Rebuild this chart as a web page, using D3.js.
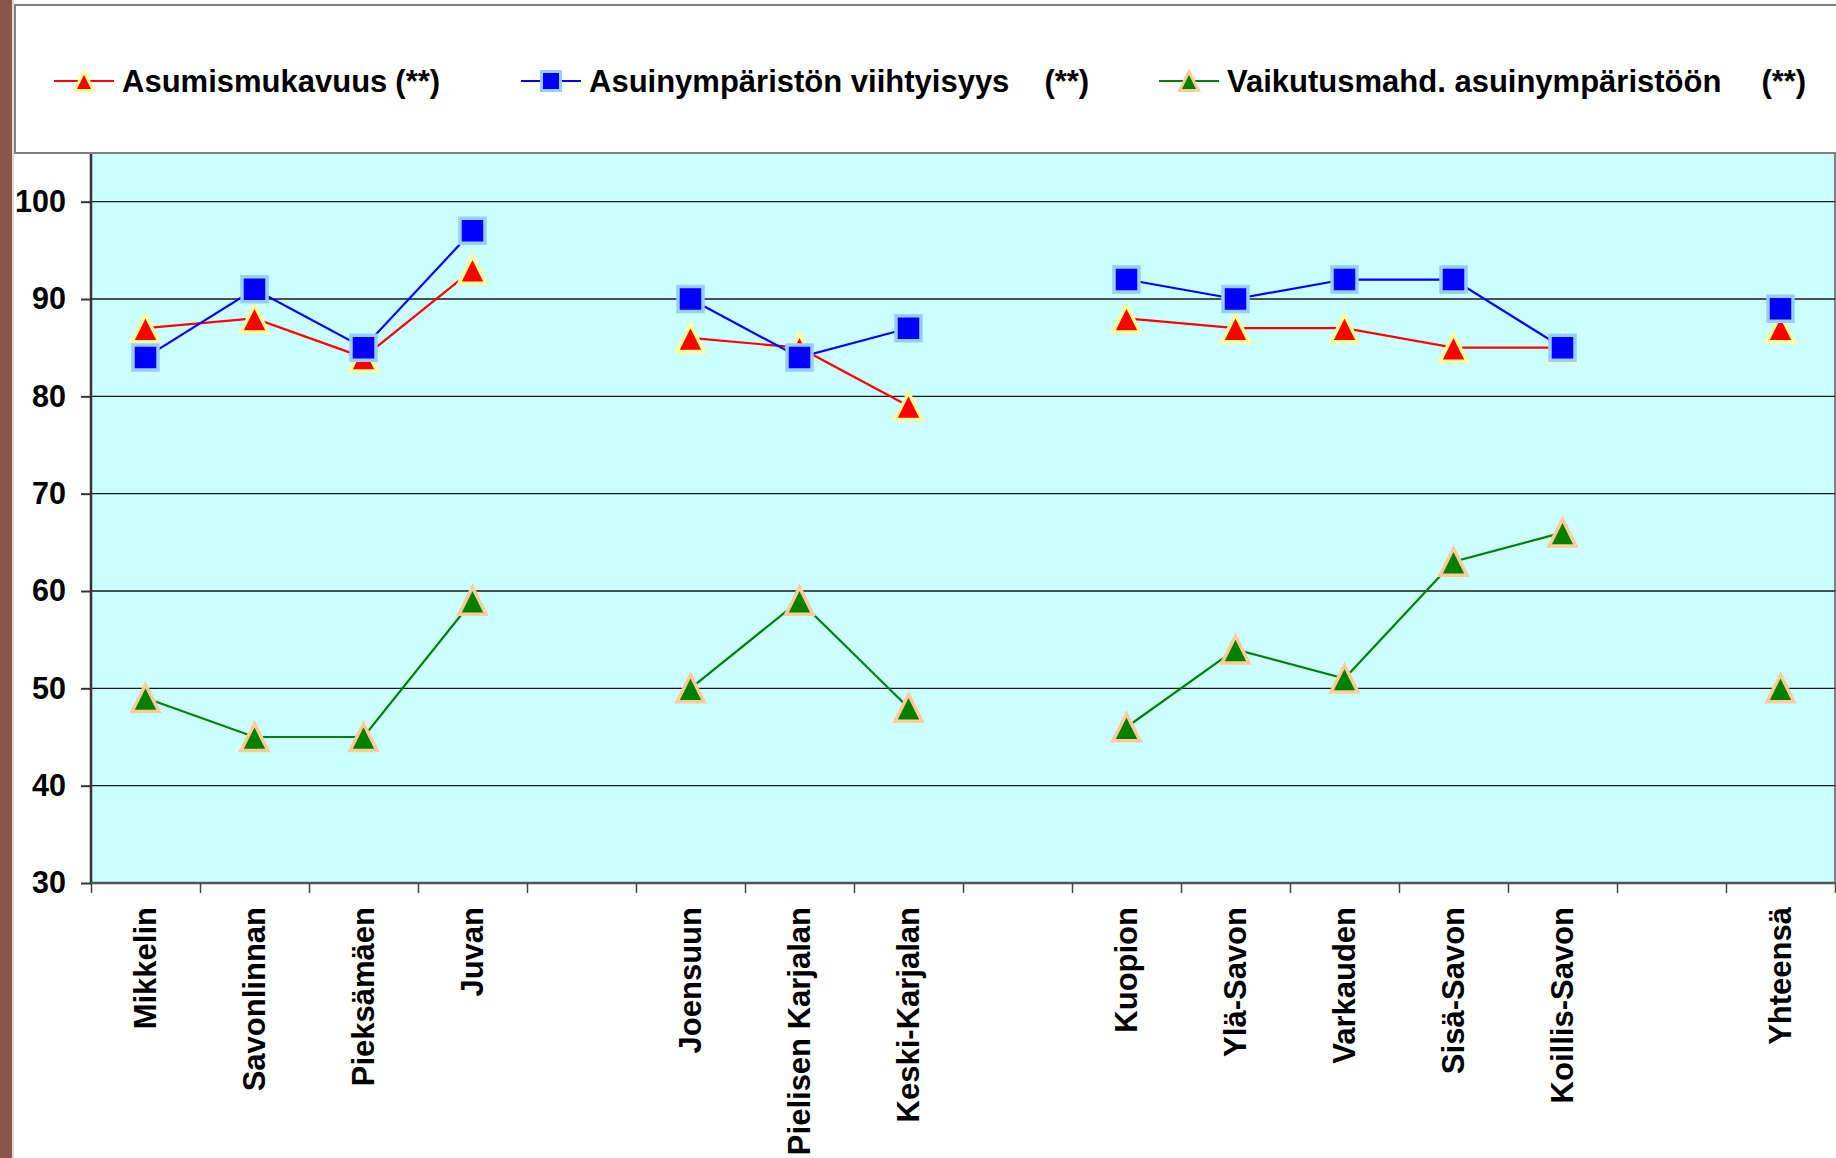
<!DOCTYPE html>
<html>
<head>
<meta charset="utf-8">
<script src="https://cdn.jsdelivr.net/npm/d3@7"></script>
<style>
    body { margin: 0; background: white; }
    svg text { font-family: "Liberation Sans", Arial, sans-serif; font-weight: bold; }
</style>
</head>
<body>
<div class="container"></div>
<script>
// Categories ("" = gap between regions)
const categories = ["Mikkelin", "Savonlinnan", "Pieksämäen", "Juvan", "",
    "Joensuun", "Pielisen Karjalan", "Keski-Karjalan", "",
    "Kuopion", "Ylä-Savon", "Varkauden", "Sisä-Savon", "Koillis-Savon", "",
    "Yhteensä"]

// Series values
const asumismukavuus = [87, 88, 84, 93, null, 86, 85, 79, null, 88, 87, 87, 85, 85, null, 87]
const viihtyisyys = [84, 91, 85, 97, null, 90, 84, 87, null, 92, 90, 92, 92, 85, null, 89]
const vaikutusmahd = [49, 45, 45, 59, null, 50, 59, 48, null, 46, 54, 51, 63, 66, null, 50]

const seriesNames = ["Asumismukavuus", "Asuinympäristön viihtyisyys", "Vaikutusmahd. asuinympäristöön"]
const seriesNotes = ["(**)", "(**)", "(**)"]

const yTicks = [30, 40, 50, 60, 70, 80, 90, 100]

const series = [
    {name: seriesNames[0], note: seriesNotes[0], values: asumismukavuus, color: "#ff0000", edge: "#ffff99", shape: "triangle"},
    {name: seriesNames[1], note: seriesNotes[1], values: viihtyisyys, color: "#0000ff", edge: "#99ccff", shape: "square"},
    {name: seriesNames[2], note: seriesNotes[2], values: vaikutusmahd, color: "#008000", edge: "#ffcc99", shape: "triangle"}
]

let outerWidth = 1836
let outerHeight = 1158
let plot = {left: 91, right: 1835, top: 153, bottom: 883}

const svg = d3.select(".container")
    .append("svg")
    .attr("width", outerWidth)
    .attr("height", outerHeight)

// brown strip on the left edge
svg.append("rect")
    .attr("x", 0).attr("y", 0)
    .attr("width", 12).attr("height", outerHeight)
    .attr("fill", "#8c5648")
svg.append("rect")
    .attr("x", 12).attr("y", 0)
    .attr("width", 2).attr("height", outerHeight)
    .attr("fill", "#ead6d0")

// Scales
const xEdge = d3.scaleLinear()
    .domain([0, categories.length])
    .range([plot.left, plot.right])

const x = i => xEdge(i + 0.5)

const yScale = d3.scaleLinear()
    .domain([30, 105])
    .range([plot.bottom, plot.top])

// Plot background
svg.append("rect")
    .attr("x", plot.left)
    .attr("y", plot.top)
    .attr("width", plot.right - plot.left)
    .attr("height", plot.bottom - plot.top)
    .attr("fill", "#ccffff")
    .attr("stroke", "#808080")
    .attr("stroke-width", 2)

// Grid lines
svg.append("g")
    .selectAll("line")
    .data(yTicks.filter(d => d > 30))
    .enter()
    .append("line")
    .attr("x1", plot.left)
    .attr("x2", plot.right)
    .attr("y1", d => yScale(d))
    .attr("y2", d => yScale(d))
    .attr("stroke", "#1a1a1a")
    .attr("stroke-width", 1.3)

// Axes
const yAxis = d3.axisLeft(yScale)
    .tickValues(yTicks)
    .tickSize(10)
    .tickPadding(15)

svg.append("g")
    .attr("class", "axis y-axis")
    .attr("transform", `translate(${plot.left}, 0)`)
    .call(yAxis)
    .call(g => {
        g.select(".domain").attr("d", `M0,${plot.top}V${plot.bottom}`).attr("stroke", "#333").attr("stroke-width", 2.5)
        g.selectAll(".tick line").attr("stroke", "#333").attr("stroke-width", 2)
        g.selectAll(".tick text")
            .attr("font-size", 30.5)
            .attr("font-family", "Liberation Sans, Arial, sans-serif")
            .attr("fill", "black")
    })

const xAxis = d3.axisBottom(xEdge)
    .tickValues(d3.range(categories.length + 1))
    .tickSize(10)
    .tickFormat("")

svg.append("g")
    .attr("class", "axis x-axis")
    .attr("transform", `translate(0, ${plot.bottom})`)
    .call(xAxis)
    .call(g => {
        g.select(".domain").attr("d", `M${plot.left},0H${plot.right}`).attr("stroke", "#555").attr("stroke-width", 2.5)
        g.selectAll(".tick line").attr("stroke", "#444").attr("stroke-width", 1.5)
    })

// Category labels
svg.append("g")
    .selectAll("text")
    .data(categories)
    .enter()
    .append("text")
    .text(d => d)
    .attr("transform", (d, i) => `translate(${x(i)}, ${plot.bottom + 24}) rotate(-90)`)
    .attr("text-anchor", "end")
    .attr("dy", "0.35em")
    .attr("font-size", 31)
    .attr("fill", "black")

// Marker shapes
function markerPath(shape, s) {
    if (shape === "square") {
        return `M${-s / 2},${-s / 2}H${s / 2}V${s / 2}H${-s / 2}Z`
    }
    return `M0,${-s / 2}L${s / 2},${s / 2}H${-s / 2}Z`
}

// Lines + markers
const line = d3.line()
    .defined(d => d.v != null)
    .x(d => x(d.i))
    .y(d => yScale(d.v))

series.forEach(s => {
    const pts = s.values.map((v, i) => ({v: v, i: i}))

    svg.append("path")
        .datum(pts)
        .attr("fill", "none")
        .attr("stroke", s.color)
        .attr("stroke-width", 2.2)
        .attr("d", line)

    svg.append("g")
        .selectAll("path")
        .data(pts.filter(d => d.v != null))
        .enter()
        .append("path")
        .attr("d", markerPath(s.shape, s.shape === "square" ? 25 : 27))
        .attr("transform", d => `translate(${x(d.i)}, ${yScale(d.v)})`)
        .attr("fill", s.color)
        .attr("stroke", s.edge)
        .attr("stroke-width", 3.5)
        .attr("stroke-linejoin", "miter")
})

// Legend box
svg.append("rect")
    .attr("x", 15)
    .attr("y", 5)
    .attr("width", outerWidth)
    .attr("height", plot.top - 5)
    .attr("fill", "white")
    .attr("stroke", "#808080")
    .attr("stroke-width", 2)

const legendX = [54, 521, 1159]
const legendNoteGap = [8, 35, 40]
const legendY = 81

const legend = svg.append("g")
    .selectAll("g")
    .data(series)
    .enter()
    .append("g")
    .attr("transform", (d, i) => `translate(${legendX[i]}, ${legendY})`)

legend.append("line")
    .attr("x1", 0).attr("x2", 60)
    .attr("stroke", d => d.color)
    .attr("stroke-width", 2.2)

legend.append("path")
    .attr("d", d => markerPath(d.shape, 19))
    .attr("transform", "translate(30, 0)")
    .attr("fill", d => d.color)
    .attr("stroke", d => d.edge)
    .attr("stroke-width", 3)

legend.append("text")
    .attr("x", 68)
    .attr("dy", "0.35em")
    .attr("font-size", 31)
    .attr("fill", "black")
    .text(d => d.name)
    .append("tspan")
    .attr("dx", (d, i) => legendNoteGap[i])
    .text(d => d.note)
</script>
</body>
</html>
